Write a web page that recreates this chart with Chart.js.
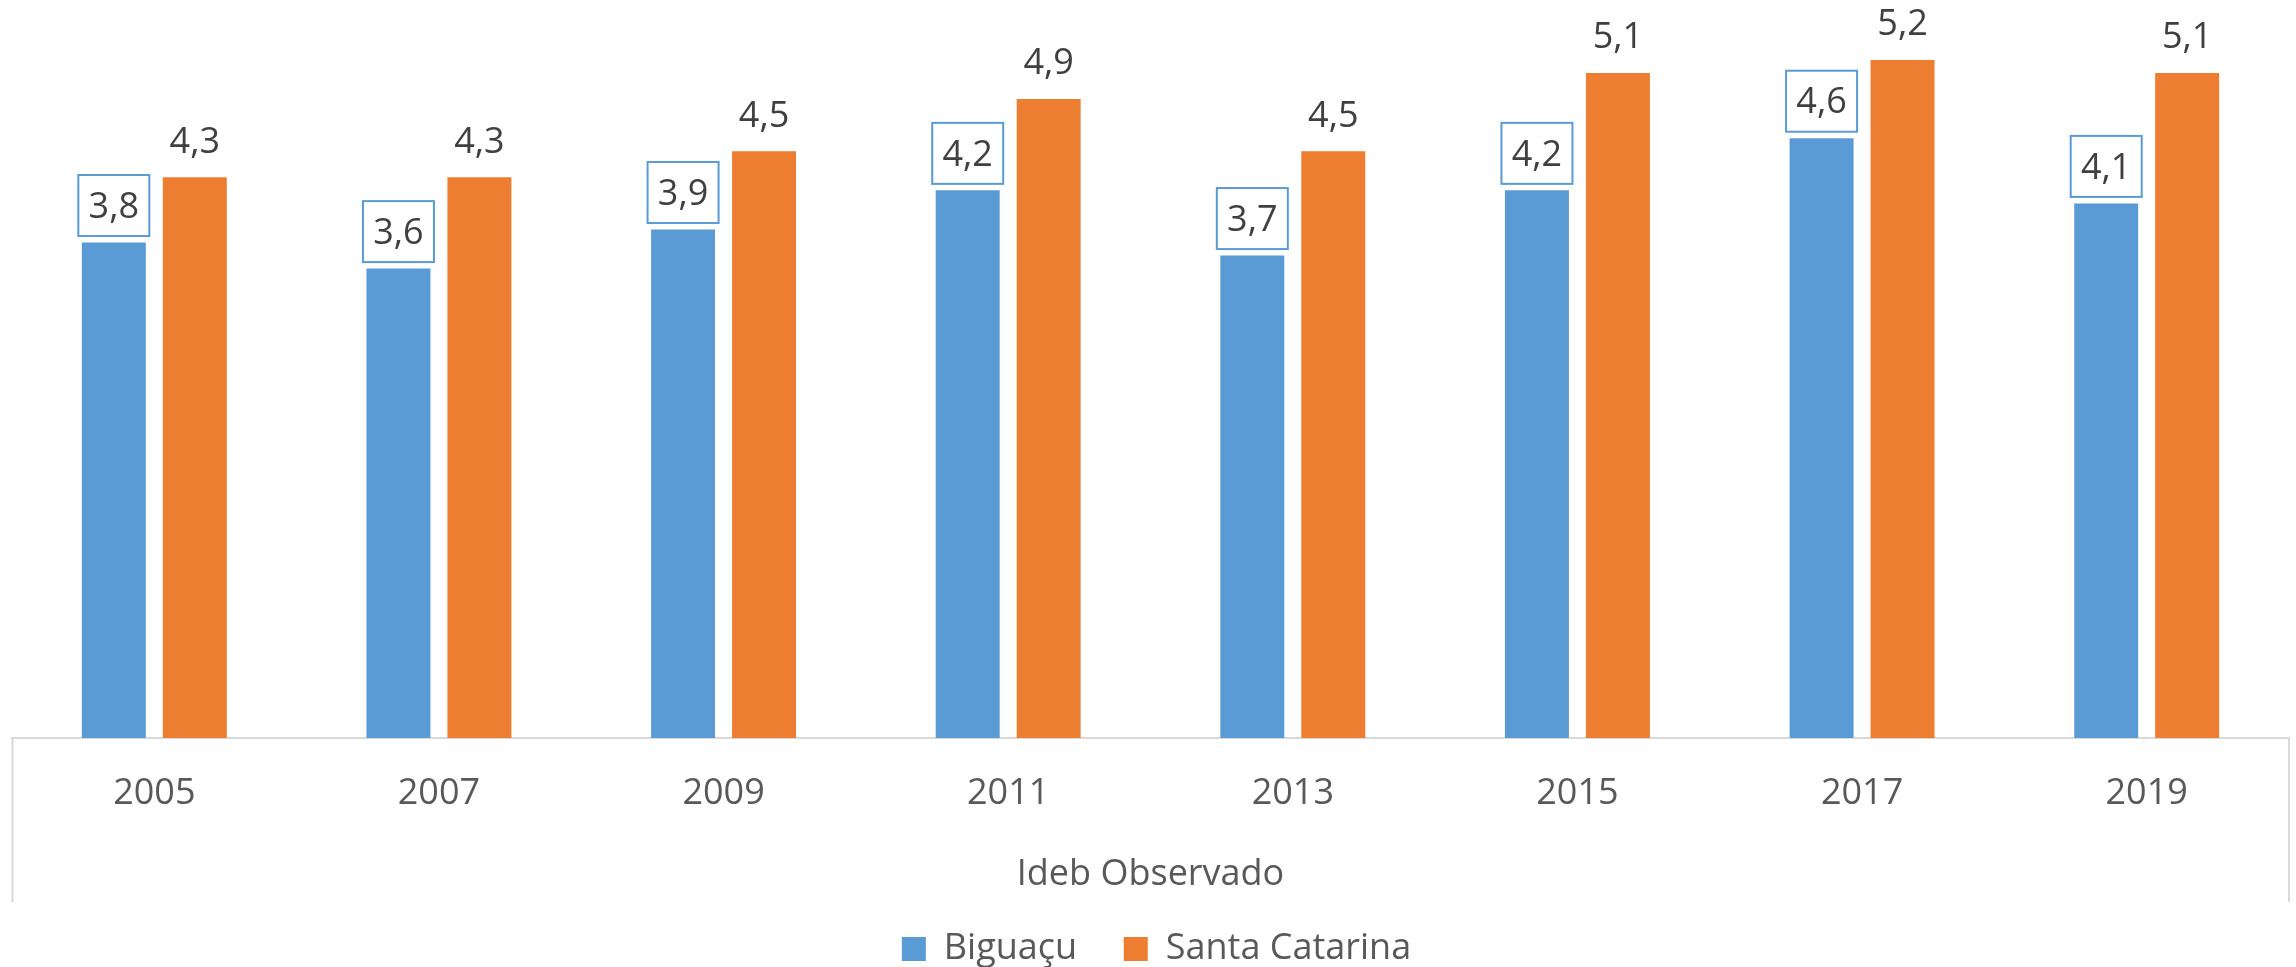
<!DOCTYPE html>
<html>
<head>
<meta charset="utf-8">
<title>Ideb Observado</title>
<script src="https://cdn.jsdelivr.net/npm/chart.js@4.4.1/dist/chart.umd.min.js"></script>
<style>
  html, body { margin: 0; padding: 0; background: #fff; overflow: hidden; }
</style>
</head>
<body>
<canvas id="chart" width="2296" height="967"></canvas>
<script>
// data
const years = ['2005', '2007', '2009', '2011', '2013', '2015', '2017', '2019']
const biguacu = [3.8, 3.6, 3.9, 4.2, 3.7, 4.2, 4.6, 4.1]
const santaCatarina = [4.3, 4.3, 4.5, 4.9, 4.5, 5.1, 5.2, 5.1]
const seriesNames = ['Biguaçu', 'Santa Catarina']
const groupLabel = 'Ideb Observado'

const FONT = '"Open Sans"'
const BLUE = '#5B9BD5'
const ORANGE = '#ED7D31'

// value labels above bars, the first series gets a boxed label
const valueLabels = {
    id: 'valueLabels',
    afterDatasetsDraw(chart) {
        const ctx = chart.ctx
        ctx.save()
        ctx.font = `36px ${FONT}`
        ctx.textAlign = 'center'
        ctx.textBaseline = 'middle'
        chart.data.datasets.forEach((ds, i) => {
            chart.getDatasetMeta(i).data.forEach((bar, j) => {
                const text = ds.data[j].toFixed(1).replace('.', ',')
                const cx = bar.x
                const cy = bar.y - 37
                if (i === 0) {
                    ctx.fillStyle = '#fff'
                    ctx.fillRect(cx - 35.5, cy - 30.5, 71, 61)
                    ctx.strokeStyle = BLUE
                    ctx.lineWidth = 2
                    ctx.strokeRect(cx - 35.5, cy - 30.5, 71, 61)
                }
                ctx.fillStyle = '#404040'
                ctx.fillText(text, cx, cy + 2)
            })
        })
        ctx.restore()
    }
}

// multi-level category axis: side lines of the axis box and the group label
const axisBox = {
    id: 'axisBox',
    afterLayout(chart) {
        // legend sits slightly right of the plot centre in the reference
        chart.legend.left += 12
    },
    afterDraw(chart) {
        const ctx = chart.ctx
        const x = chart.scales.x
        const bottom = x.top + 164
        ctx.save()
        ctx.strokeStyle = '#d9d9d9'
        ctx.lineWidth = 2
        ctx.beginPath()
        ctx.moveTo(x.left + 0.5, x.top)
        ctx.lineTo(x.left + 0.5, bottom)
        ctx.moveTo(x.right, x.top)
        ctx.lineTo(x.right, bottom)
        ctx.stroke()
        ctx.font = `36px ${FONT}`
        ctx.fillStyle = '#595959'
        ctx.textAlign = 'center'
        ctx.textBaseline = 'middle'
        ctx.fillText(groupLabel, (x.left + x.right) / 2, x.top + 137)
        ctx.restore()
    }
}

new Chart(document.getElementById('chart'), {
    type: 'bar',
    data: {
        labels: years,
        datasets: [
            {
                label: seriesNames[0],
                data: biguacu,
                backgroundColor: BLUE,
                borderWidth: 0
            },
            {
                label: seriesNames[1],
                data: santaCatarina,
                backgroundColor: ORANGE,
                borderWidth: 0
            }
        ]
    },
    options: {
        responsive: false,
        animation: false,
        categoryPercentage: 0.569,
        barPercentage: 0.79,
        layout: {
            padding: { left: 12, right: 7, top: 0, bottom: -10 }
        },
        plugins: {
            tooltip: { enabled: false },
            legend: {
                position: 'bottom',
                labels: {
                    boxWidth: 24,
                    boxHeight: 24,
                    padding: 46.6,
                    color: '#595959',
                    font: { family: FONT, size: 36 }
                }
            }
        },
        scales: {
            x: {
                grid: { display: false, drawTicks: false },
                border: { display: true, color: '#d9d9d9', width: 2 },
                ticks: {
                    color: '#595959',
                    padding: 34,
                    font: { family: FONT, size: 36 }
                },
                afterFit(scale) {
                    scale.height = 146.4
                }
            },
            y: {
                display: false,
                min: 0,
                max: 5.66
            }
        }
    },
    plugins: [valueLabels, axisBox]
})
</script>
</body>
</html>
